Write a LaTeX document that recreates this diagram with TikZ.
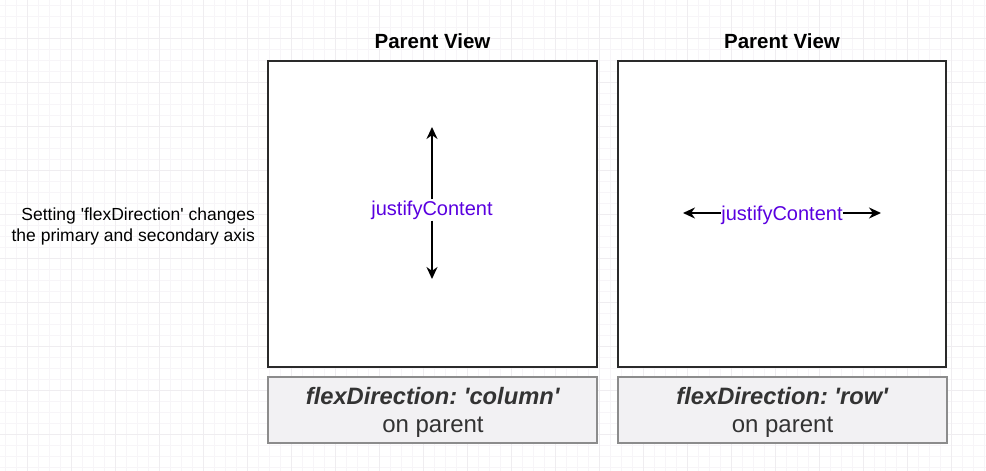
\documentclass[tikz,border=0pt]{standalone}
\usepackage{fontspec}
\setmainfont{Liberation Sans}
\usetikzlibrary{arrows.meta}
\definecolor{gridminor}{HTML}{F7F5F8}
\definecolor{gridmajor}{HTML}{EFEDF0}
\definecolor{boxline}{HTML}{2A2A2A}
\definecolor{notefill}{HTML}{F2F1F3}
\definecolor{noteline}{HTML}{8C8C8C}
\definecolor{jc}{HTML}{5A00E0}
\definecolor{txt}{HTML}{333333}
\newcommand{\sq}{\textquotesingle}
\frenchspacing
\tikzset{
  parentbox/.style={draw=boxline, line width=1.2pt, fill=white},
  notebox/.style={draw=noteline, line width=1.2pt, fill=notefill},
  title/.style={font=\fontsize{20.5}{24}\selectfont\bfseries, text=black},
  jclabel/.style={font=\fontsize{20}{24}\selectfont, text=jc, inner sep=1pt},
  axisarrow/.style={line width=2pt, -{Stealth[length=12pt,width=11pt]}},
  notetext/.style={font=\fontsize{23.7}{28}\selectfont, text=txt, align=center},
}
\begin{document}
\begin{tikzpicture}[x=1pt,y=-1pt]
\useasboundingbox (0,0) rectangle (986,471);
\fill[white] (0,0) rectangle (986,471);
% grid
\foreach \i in {0,...,90} {
  \draw[gridminor, line width=0.6pt] ({5+\i*11},0) -- ({5+\i*11},471);
}
\foreach \i in {0,...,43} {
  \draw[gridminor, line width=0.6pt] (0,{5+\i*11}) -- (986,{5+\i*11});
}
\foreach \i in {0,...,22} {
  \draw[gridmajor, line width=0.8pt] ({27+\i*44},0) -- ({27+\i*44},471);
}
\foreach \i in {0,...,10} {
  \draw[gridmajor, line width=0.8pt] (0,{38+\i*44}) -- (986,{38+\i*44});
}
% parent boxes
\draw[parentbox] (268,61) rectangle (597,367);
\draw[parentbox] (618,61) rectangle (946,367);
\node[title] (t1) at (432.5,41) {Parent View};
\node[title] (t2) at (782,41) {Parent View};
% note boxes
\draw[notebox] (268,377) rectangle (597,443);
\draw[notebox] (618,377) rectangle (947,443);
\node[notetext] (n1) at (433,412) {\textbf{\textit{flexDirection: \sq column\sq}}\\{\fontsize{24}{28}\selectfont on parent}};
\node[notetext] (n2) at (782.5,412) {\textbf{\textit{flexDirection: \sq row\sq}}\\{\fontsize{24}{28}\selectfont on parent}};
% side text
\node[font=\fontsize{17.5}{21}\selectfont, align=right, anchor=east, text=black, inner sep=0pt] (side) at (255,226) {Setting \sq flexDirection\sq{} changes\\the primary and secondary axis};
% vertical axis
\node[jclabel] (jc1) at (432,210) {justifyContent};
\coordinate (vt) at (432,127);
\coordinate (vb) at (432,279);
\draw[axisarrow] (jc1.north) -- (vt);
\draw[axisarrow] (jc1.south) -- (vb);
% horizontal axis
\node[jclabel, inner sep=0pt] (jc2) at (782,215) {justifyContent};
\coordinate (hl) at (683,213);
\coordinate (hr) at (881,213);
\draw[axisarrow] (jc2.west |- hl) -- (hl);
\draw[axisarrow] (jc2.east |- hr) -- (hr);
\end{tikzpicture}
\end{document}
